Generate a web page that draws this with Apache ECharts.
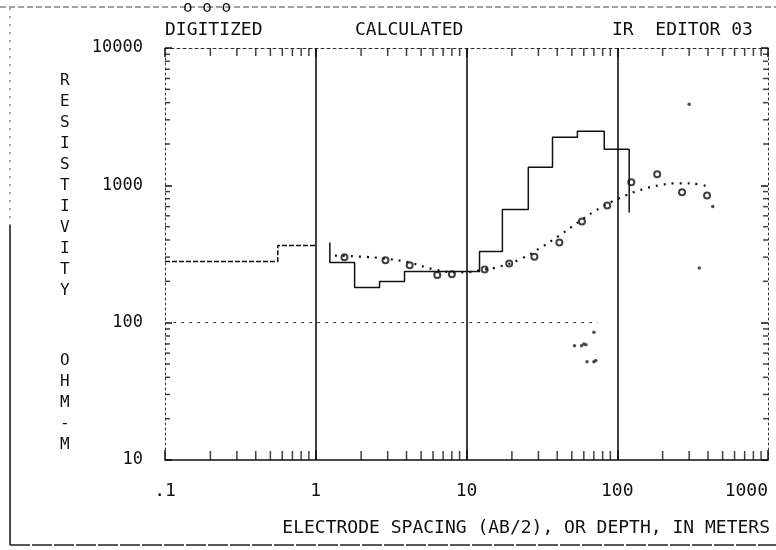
<!DOCTYPE html>
<html>
<head>
<meta charset="utf-8">
<script src="https://cdn.jsdelivr.net/npm/echarts@6/dist/echarts.min.js"></script>
<style>
html,body{margin:0;padding:0;background:#fff;}
#chart{width:776px;height:550px;}
</style>
</head>
<body>
<div id="chart"></div>
<script>
// tick labels
var xLabels = {'0.1': '.1', '1': '1', '10': '10', '100': '100', '1000': '1000'};
var xMinor = [0.2,0.3,0.4,0.5,0.6,0.7,0.8,0.9,2,3,4,5,6,7,8,9,20,30,40,50,60,70,80,90,200,300,400,500,600,700,800,900];
var yMinor = [20,30,40,50,60,70,80,90,200,300,400,500,600,700,800,900,2000,3000,4000,5000,6000,7000,8000,9000];

var digX = [0.1, 0.56, 1.0];
var digY = [279, 365, 365];

// calculated layered model (step)
var layerX = [1.24, 1.24, 1.81, 2.65, 3.88, 12.2, 17.3, 25.7, 37.2, 54.4, 82, 120];
var layerY = [384, 274, 180, 199, 236, 330, 668, 1353, 2240, 2478, 1832, 635];

// calculated apparent resistivity (dotted)
var calcX = [1.34, 1.95, 2.86, 4.19, 6.14, 8.99, 13.2, 16.6, 22.4, 30.4, 41.3, 56, 76, 103, 140, 190, 258, 349, 406];
var calcY = [308, 303, 293, 274, 244, 232, 244, 256, 288, 347, 431, 546, 679, 804, 920, 1000, 1035, 1017, 967];

var obsX = [1.55, 2.9, 4.2, 6.4, 8.0, 13.2, 19.2, 28.2, 41.3, 58.3, 85.8, 124, 184, 269, 394];
var obsY = [300, 285, 262, 222, 225, 244, 270, 302, 383, 546, 713, 1052, 1203, 889, 845];

// stray specks
var speckX = [52, 58, 60, 62, 70, 63, 70, 72, 300, 430, 350];
var speckY = [68, 68, 70, 69, 85, 52, 52, 53, 3900, 700, 250];

var decades = [1, 10, 100];

var myChart = echarts.init(document.getElementById('chart'));
var font = 'DejaVu Sans Mono';

function pairs(xs, ys){
	var out = [];
	for(var i=0;i<xs.length;i++){ out.push([xs[i], ys[i]]); }
	return out;
}
function tickData(vals, fixed, isX){
	return vals.map(function(v){ return isX ? [v, fixed] : [fixed, v]; });
}

var option = {
	animation: false,
	backgroundColor: '#fff',
	grid: {left: 165, right: 8, top: 48, bottom: 90, containLabel: false, outerBoundsMode: 'none'},
	xAxis: [
		{
			type: 'log', min: 0.1, max: 1000, logBase: 10, position: 'bottom',
			axisLine: {show: true, lineStyle: {color: '#111', width: 1.5}},
			axisTick: {show: true, inside: true, length: 10, lineStyle: {color: '#111', width: 1.5}},
			axisLabel: {color: '#111', fontFamily: font, fontSize: 18, margin: 22, alignMaxLabel: 'right',
				formatter: function(v){ return xLabels[String(v)] || ''; }},
			splitLine: {show: false}
		},
		{
			type: 'log', min: 0.1, max: 1000, logBase: 10, position: 'top',
			axisLine: {show: true, lineStyle: {color: '#333', width: 1, type: [3, 3]}},
			axisTick: {show: true, inside: true, length: 9, lineStyle: {color: '#111', width: 1.5}},
			axisLabel: {show: false},
			splitLine: {show: false}
		}
	],
	yAxis: [
		{
			type: 'log', min: 10, max: 10000, logBase: 10, position: 'left',
			axisLine: {show: true, lineStyle: {color: '#333', width: 1, type: [2, 3]}},
			axisTick: {show: true, inside: true, length: 7, lineStyle: {color: '#111', width: 1.5}},
			axisLabel: {color: '#111', fontFamily: font, fontSize: 17, margin: 22,
				formatter: function(v){ return String(v); }},
			splitLine: {show: false}
		},
		{
			type: 'log', min: 10, max: 10000, logBase: 10, position: 'right',
			axisLine: {show: true, lineStyle: {color: '#333', width: 1, type: [2, 3]}},
			axisTick: {show: true, inside: true, length: 7, lineStyle: {color: '#111', width: 1.5}},
			axisLabel: {show: false},
			splitLine: {show: false}
		}
	],
	series: [
		{
			name: 'digitized', type: 'line', step: 'end', symbol: 'none',
			data: pairs(digX, digY),
			lineStyle: {color: '#111', width: 1.5, type: [5, 2]},
			markLine: {
				silent: true, symbol: 'none', label: {show: false},
				lineStyle: {color: '#111', width: 1.6, type: 'solid'},
				data: decades.map(function(d){ return {xAxis: d}; }).concat([
					[{coord: [0.1, 100], lineStyle: {color: '#444', width: 1.2, type: [3, 5]}}, {coord: [74, 100]}]
				])
			}
		},
		{
			name: 'model', type: 'line', step: 'end', symbol: 'none',
			data: pairs(layerX, layerY),
			lineStyle: {color: '#111', width: 1.5}
		},
		{
			name: 'calculated', type: 'line', smooth: true, symbol: 'none',
			data: pairs(calcX, calcY),
			lineStyle: {color: '#111', width: 2.2, type: [2, 6]}
		},
		{
			name: 'observed', type: 'scatter', symbol: 'emptyCircle', symbolSize: 6,
			data: pairs(obsX, obsY),
			itemStyle: {color: '#111', borderColor: '#111', borderWidth: 1.4}
		},
		{
			name: 'specks', type: 'scatter', symbol: 'circle', symbolSize: 3.5,
			data: pairs(speckX, speckY),
			itemStyle: {color: '#222'}
		},
		{
			type: 'scatter', symbol: 'rect', symbolSize: [1.5, 9], symbolOffset: [0, -4.5],
			data: tickData(xMinor, 10, true), itemStyle: {color: '#111'}, silent: true
		},
		{
			type: 'scatter', symbol: 'rect', symbolSize: [1.5, 8], symbolOffset: [0, 4],
			data: tickData(xMinor, 10000, true), itemStyle: {color: '#111'}, silent: true
		},
		{
			type: 'scatter', symbol: 'rect', symbolSize: [5, 1.5], symbolOffset: [2.5, 0],
			data: tickData(yMinor, 0.1, false), itemStyle: {color: '#111'}, silent: true
		},
		{
			type: 'scatter', symbol: 'rect', symbolSize: [5, 1.5], symbolOffset: [-2.5, 0],
			data: tickData(yMinor, 1000, false), itemStyle: {color: '#111'}, silent: true
		}
	],
	graphic: [
		{type: 'line', shape: {x1: 0, y1: 7, x2: 776, y2: 7}, style: {stroke: '#444', lineWidth: 1, lineDash: [6, 3]}},
		{type: 'text', left: 183, top: 0, style: {text: 'o o o', font: '16px ' + font, fill: '#111'}},
		{type: 'line', shape: {x1: 10, y1: 8, x2: 10, y2: 225}, style: {stroke: '#555', lineWidth: 1, lineDash: [2, 6]}},
		{type: 'line', shape: {x1: 10, y1: 225, x2: 10, y2: 545}, style: {stroke: '#111', lineWidth: 1.5}},
		{type: 'line', shape: {x1: 10, y1: 545, x2: 776, y2: 545}, style: {stroke: '#222', lineWidth: 1.5, lineDash: [20, 2]}},
		{type: 'text', left: 165, top: 21, style: {text: 'DIGITIZED', font: '18px ' + font, fill: '#111'}},
		{type: 'text', left: 355, top: 21, style: {text: 'CALCULATED', font: '18px ' + font, fill: '#111'}},
		{type: 'text', left: 612, top: 21, style: {text: 'IR  EDITOR 03', font: '18px ' + font, fill: '#111'}},
		{type: 'text', left: 60, top: 70, style: {text: 'R\nE\nS\nI\nS\nT\nI\nV\nI\nT\nY', font: '16px ' + font, fill: '#111', lineHeight: 21}},
		{type: 'text', left: 60, top: 350, style: {text: 'O\nH\nM\n-\nM', font: '16px ' + font, fill: '#111', lineHeight: 21}},
		{type: 'text', right: 6, top: 519, style: {text: 'ELECTRODE SPACING (AB/2), OR DEPTH, IN METERS', font: '18px ' + font, fill: '#111'}}
	]
};
myChart.setOption(option);
</script>
</body>
</html>
